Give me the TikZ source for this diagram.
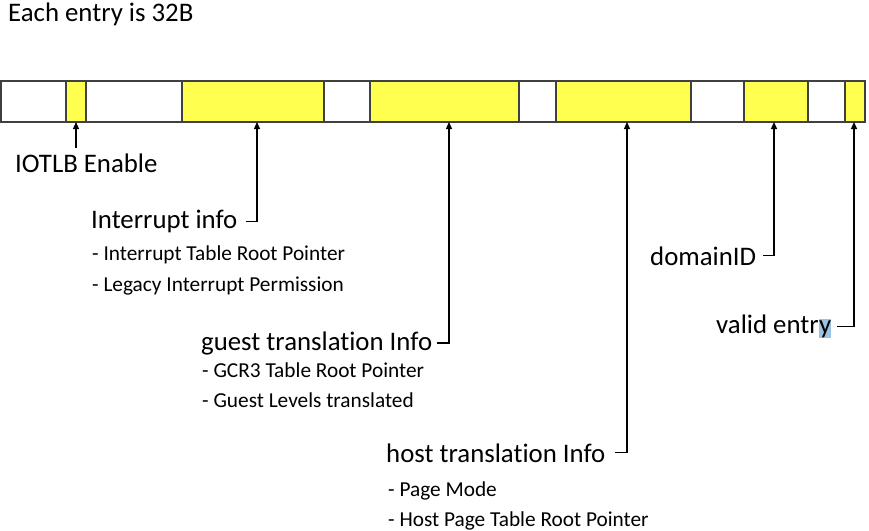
\documentclass[tikz,border=0pt]{standalone}
\usepackage{fontspec}
\setmainfont{Carlito}[Ligatures=NoCommon]
\usetikzlibrary{arrows.meta}
\definecolor{fieldyellow}{HTML}{FFFF4F}
\definecolor{selblue}{HTML}{9CC3E0}
\tikzset{
  cell/.style={draw=black!75,line width=1.2pt,inner sep=0pt,outer sep=0pt,minimum height=41pt},
  lbl/.style={anchor=base west,inner sep=0pt,font=\fontsize{26.8}{32}\selectfont},
  sub/.style={anchor=base west,inner sep=0pt,font=\fontsize{21.3}{25}\selectfont},
  ptr/.style={line width=1.3pt,-{Triangle[width=6pt,length=7pt]}}
}
\begin{document}
\begin{tikzpicture}[x=1pt,y=-1pt]
  \useasboundingbox (0,0) rectangle (869,530);
  \node[lbl] (title) at (8,21.5) {Each entry is 32B};
  % the fields of one entry
  \foreach \l/\r/\c [count=\i] in {1/66/white,66/86/fieldyellow,86/182/white,
      182/324/fieldyellow,324/370/white,370/519/fieldyellow,519/556/white,
      556/691/fieldyellow,691/744/white,744/808/fieldyellow,808/845/white,
      845/865/fieldyellow}
    \node[cell,fill=\c,minimum width=\r-\l] (c\i) at ({(\l+\r)/2},101.5) {};
  % labels
  \node[lbl] (iotlb) at (15,172) {IOTLB Enable};
  \node[lbl] (intr) at (91,228.5) {Interrupt info};
  \node[sub] (intr1) at (92,260) {- Interrupt Table Root Pointer};
  \node[sub] (intr2) at (92,291) {- Legacy Interrupt Permission};
  \node[lbl] (guest) at (201,350) {guest translation Info};
  \node[sub] (guest1) at (202,377) {- GCR3 Table Root Pointer};
  \node[sub] (guest2) at (202,407) {- Guest Levels translated};
  \node[lbl] (host) at (386,462) {host translation Info};
  \node[sub] (host1) at (388,496) {- Page Mode};
  \node[sub] (host2) at (388,526) {- Host Page Table Root Pointer};
  \node[lbl] (dom) at (650,265) {domainID};
  \node[lbl] (valid) at (716,333) {valid entr};
  \node[lbl,fill=selblue,text height=14pt,text depth=5pt] (validy) at (valid.base east) {y};
  % pointers
  \draw[ptr] (c2.south) ++(0,26) -- (c2.south);
  \draw[ptr] ([xshift=8pt]intr.east) -| ([xshift=4pt]c4.south);
  \draw[ptr] ([xshift=5pt]guest.east) -| ([xshift=4.5pt]c6.south);
  \draw[ptr] ([xshift=9pt]host.east) -| ([xshift=3.5pt]c8.south);
  \draw[ptr] ([xshift=7pt]dom.east) -| ([xshift=-2pt]c10.south);
  \draw[ptr] ([xshift=6pt,yshift=2pt]validy.east) -| ([xshift=-1pt]c12.south);
\end{tikzpicture}
\end{document}
